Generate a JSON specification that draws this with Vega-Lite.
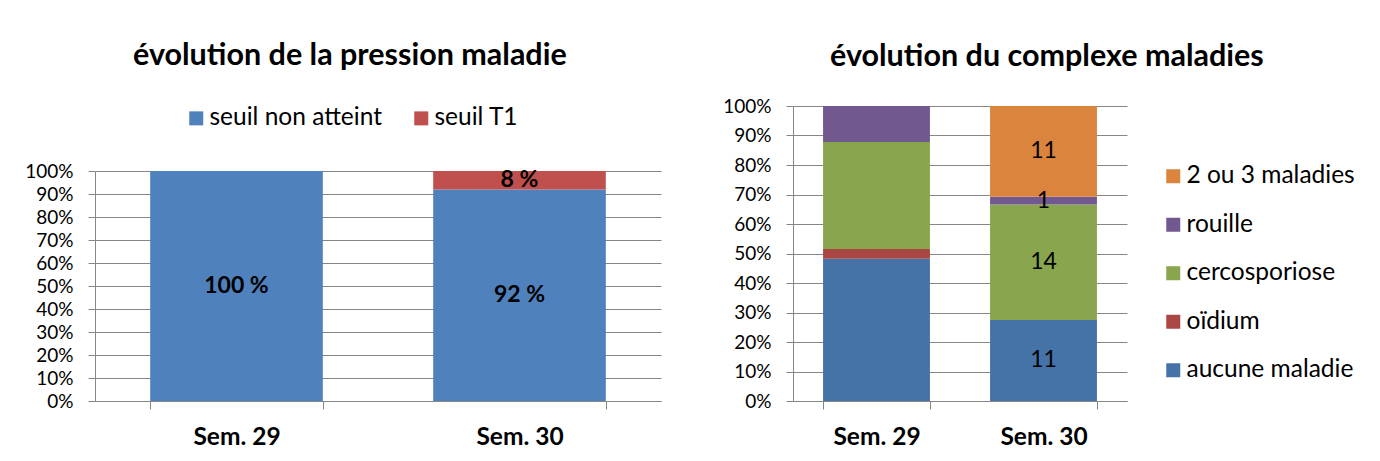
{
  "$schema": "https://vega.github.io/schema/vega-lite/v6.json",
  "background": "white",
  "padding": {"left": 24, "top": 40, "right": 0, "bottom": 0},
  "config": {
    "font": "Lato",
    "view": {"stroke": null},
    "axis": {"labelColor": "black", "domainColor": "#868686", "tickColor": "#868686", "gridColor": "#868686", "title": null},
    "legend": {"labelColor": "black", "labelFont": "Lato", "padding": 0, "symbolType": "square", "symbolStrokeWidth": 0, "title": null, "labelLimit": 0},
    "title": {"color": "black", "fontWeight": "bold", "fontSize": 30.5, "font": "Lato", "anchor": "middle", "frame": "bounds"}
  },
  "datasets": {
    "pression": [
      {"sem": "Sem. 29", "etat": "seuil non atteint", "pct": 100, "lab": "100 %", "k": 1},
      {"sem": "Sem. 30", "etat": "seuil non atteint", "pct": 92, "lab": "92 %", "k": 1},
      {"sem": "Sem. 30", "etat": "seuil T1", "pct": 8, "lab": "8 %", "k": 2}
    ],
    "complexe": [
      {"sem": "Sem. 29", "maladie": "aucune maladie", "pct": 48.2, "lab": null, "k": 1},
      {"sem": "Sem. 29", "maladie": "oïdium", "pct": 3.3, "lab": null, "k": 2},
      {"sem": "Sem. 29", "maladie": "cercosporiose", "pct": 36.3, "lab": null, "k": 3},
      {"sem": "Sem. 29", "maladie": "rouille", "pct": 12.2, "lab": null, "k": 4},
      {"sem": "Sem. 30", "maladie": "aucune maladie", "pct": 27.5, "lab": "11", "k": 1},
      {"sem": "Sem. 30", "maladie": "cercosporiose", "pct": 39.1, "lab": "14", "k": 3},
      {"sem": "Sem. 30", "maladie": "rouille", "pct": 2.6, "lab": "1", "k": 4},
      {"sem": "Sem. 30", "maladie": "2 ou 3 maladies", "pct": 30.8, "lab": "11", "k": 5}
    ]
  },
  "resolve": {"scale": {"color": "independent"}, "legend": {"color": "independent"}},
  "spacing": 61,
  "hconcat": [
    {
      "width": 566,
      "height": 295,
      "title": {"text": "évolution de la pression maladie", "offset": 35, "dx": 7},
      "data": {"name": "pression"},
      "transform": [
        {"stack": "pct", "groupby": ["sem"], "sort": [{"field": "k", "order": "ascending"}], "as": ["y0", "y1"]},
        {"calculate": "(datum.y0 + datum.y1) / 2", "as": "ym"}
      ],
      "encoding": {
        "x": {
          "field": "sem", "type": "nominal",
          "scale": {"paddingInner": 0.39, "paddingOuter": 0.195},
          "axis": {"labelAngle": 0, "tickBand": "extent", "tickSize": 8, "labelFontSize": 24.5, "labelFontWeight": "bold", "labelPadding": 16, "grid": false}
        }
      },
      "layer": [
        {
          "mark": {"type": "bar"},
          "encoding": {
            "y": {
              "field": "y0", "type": "quantitative",
              "scale": {"domain": [0, 100], "range": [295, 65]},
              "axis": {"values": [0, 10, 20, 30, 40, 50, 60, 70, 80, 90, 100], "labelExpr": "datum.value + '%'", "labelOverlap": false, "grid": true, "tickSize": 7, "labelFontSize": 19, "labelPadding": 15}
            },
            "y2": {"field": "y1"},
            "color": {
              "field": "etat", "type": "nominal",
              "scale": {"domain": ["seuil non atteint", "seuil T1"], "range": ["#4F81BD", "#C0504D"]},
              "legend": {"orient": "none", "direction": "horizontal", "legendX": 89, "legendY": 0, "labelFontSize": 24.5, "symbolSize": 196, "columnPadding": 27, "labelOffset": 1}
            }
          }
        },
        {
          "mark": {"type": "text", "fontWeight": "bold", "fontSize": 23, "color": "black"},
          "encoding": {
            "y": {
              "field": "ym", "type": "quantitative",
              "axis": {"values": [0, 10, 20, 30, 40, 50, 60, 70, 80, 90, 100], "labelExpr": "datum.value + '%'", "labelOverlap": false, "grid": true, "tickSize": 7, "labelFontSize": 19, "labelPadding": 15}
            },
            "text": {"field": "lab"}
          }
        }
      ]
    },
    {
      "width": 334,
      "height": 295,
      "title": {"text": "évolution du complexe maladies", "offset": 25, "dx": 8},
      "data": {"name": "complexe"},
      "transform": [
        {"stack": "pct", "groupby": ["sem"], "sort": [{"field": "k", "order": "ascending"}], "as": ["y0", "y1"]},
        {"calculate": "(datum.y0 + datum.y1) / 2", "as": "ym"}
      ],
      "encoding": {
        "x": {
          "field": "sem", "type": "nominal",
          "scale": {"paddingInner": 0.36, "paddingOuter": 0.18},
          "axis": {"labelAngle": 0, "tickBand": "extent", "tickSize": 8, "labelFontSize": 24.5, "labelFontWeight": "bold", "labelPadding": 16, "grid": false}
        }
      },
      "layer": [
        {
          "mark": {"type": "bar"},
          "encoding": {
            "y": {
              "field": "y0", "type": "quantitative",
              "scale": {"domain": [0, 100]},
              "axis": {"values": [0, 10, 20, 30, 40, 50, 60, 70, 80, 90, 100], "labelExpr": "datum.value + '%'", "labelOverlap": false, "grid": true, "tickSize": 7, "labelFontSize": 19, "labelPadding": 15}
            },
            "y2": {"field": "y1"},
            "color": {
              "field": "maladie", "type": "nominal",
              "scale": {"domain": ["2 ou 3 maladies", "rouille", "cercosporiose", "oïdium", "aucune maladie"], "range": ["#DB843D", "#71588F", "#89A54E", "#AA4643", "#4572A7"]},
              "legend": {"orient": "none", "direction": "vertical", "legendX": 368, "legendY": 58, "labelFontSize": 24.5, "symbolSize": 196, "rowPadding": 23.5, "labelOffset": 1}
            }
          }
        },
        {
          "transform": [{"filter": "isValid(datum.lab)"}],
          "mark": {"type": "text", "fontSize": 23, "color": "black"},
          "encoding": {
            "y": {
              "field": "ym", "type": "quantitative",
              "axis": {"values": [0, 10, 20, 30, 40, 50, 60, 70, 80, 90, 100], "labelExpr": "datum.value + '%'", "labelOverlap": false, "grid": true, "tickSize": 7, "labelFontSize": 19, "labelPadding": 15}
            },
            "text": {"field": "lab"}
          }
        }
      ]
    }
  ]
}
